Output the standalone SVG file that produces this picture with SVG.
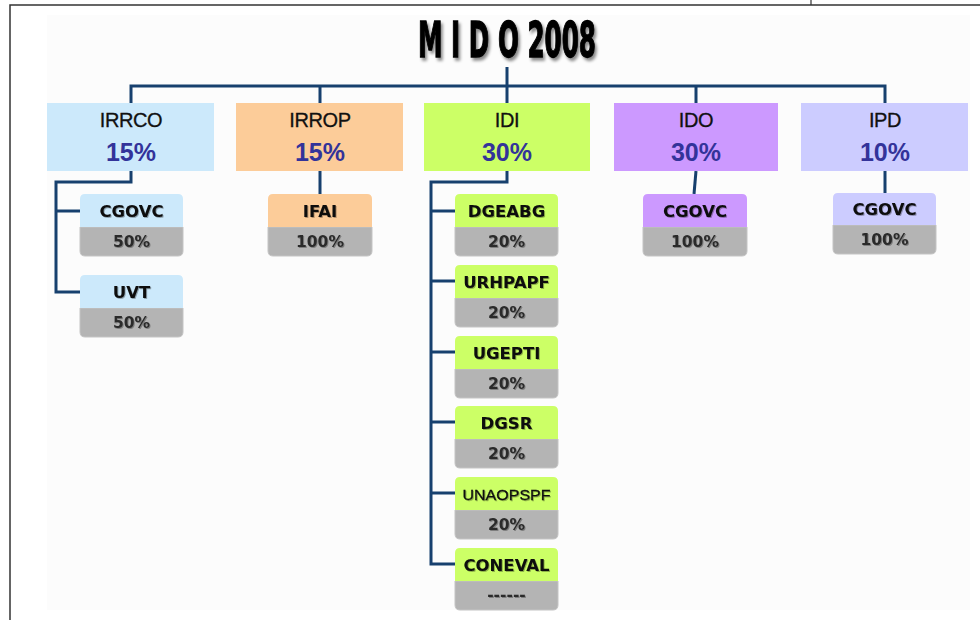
<svg xmlns="http://www.w3.org/2000/svg" width="980" height="620" viewBox="0 0 980 620">
<defs>
<filter id="sh" x="-10%" y="-20%" width="130%" height="160%">
<feDropShadow dx="2" dy="3" stdDeviation="1.6" flood-color="#000" flood-opacity="0.45"/>
</filter>
<filter id="ts" x="-10%" y="-20%" width="130%" height="150%">
<feDropShadow dx="1" dy="1" stdDeviation="0.6" flood-color="#000" flood-opacity="0.3"/>
</filter>
</defs>
<style>
.frame{stroke:#333;stroke-width:1.5;fill:none}
.con{stroke:#17406e;stroke-width:3;fill:none}
.top-name{font-family:"Liberation Sans",Arial,sans-serif;font-size:20px;fill:#111;stroke:#111;stroke-width:0.3px;text-anchor:middle;letter-spacing:-0.4px}
.top-pct{font-family:"Liberation Sans",Arial,sans-serif;font-size:25px;font-weight:bold;fill:#33339a;text-anchor:middle}
.sub-name{font-family:"DejaVu Sans",Verdana,sans-serif;font-size:16.5px;font-weight:bold;fill:#0a0a0a;text-anchor:middle}
.sub-pct{font-family:"DejaVu Sans",Verdana,sans-serif;font-size:15.5px;font-weight:bold;fill:#2a2a2a;text-anchor:middle}
.grey{fill:#b4b4b4;stroke:#c4c4c4;stroke-width:1}
.blue{fill:#cce9fb}.peach{fill:#fccc99}.lime{fill:#ccff66}.violet{fill:#cc99ff}.lav{fill:#ccccff}
</style>
<rect width="980" height="620" fill="#ffffff"/>
<rect x="47" y="15" width="923" height="595" fill="#fcfcfc"/>
<path class="frame" d="M10,620 V5 H980"/>
<line x1="811" y1="0" x2="811" y2="5" stroke="#333" stroke-width="1.2"/>

<g id="title" filter="url(#sh)">
<text x="507" y="57" text-anchor="middle" textLength="178" lengthAdjust="spacingAndGlyphs" font-family="'Liberation Sans Narrow','DejaVu Sans Condensed','Liberation Sans',sans-serif" font-weight="bold" font-size="44" fill="#000" stroke="#000" stroke-width="1.2" transform="translate(507 57) scale(1 1.12) translate(-507 -57)">M I D O 2008</text>
</g>

<g id="connectors">
<path class="con" d="M507,67 V86"/>
<path class="con" d="M131,103 V86 H885 V103"/>
<path class="con" d="M320,86 V103 M507,86 V103 M696,86 V103"/>
<path class="con" d="M131,171 V182 H56 V292 H80 M56,211 H80"/>
<path class="con" d="M320,171 V194"/>
<path class="con" d="M507,171 V182 H431 V564 H455 M431,211 H455 M431,281 H455 M431,352 H455 M431,422 H455 M431,493 H455"/>
<path class="con" d="M696,171 L694,194"/>
<path class="con" d="M885,171 V193"/>
</g>

<g id="IRRCO">
<rect class="blue" x="47" y="103" width="167" height="68"/>
<text class="top-name" x="131" y="127">IRRCO</text>
<text class="top-pct" x="131" y="161">15%</text>
</g>
<g id="IRROP">
<rect class="peach" x="236" y="103" width="167" height="68"/>
<text class="top-name" x="320" y="127">IRROP</text>
<text class="top-pct" x="320" y="161">15%</text>
</g>
<g id="IDI">
<rect class="lime" x="424" y="103" width="166" height="68"/>
<text class="top-name" x="507" y="127">IDI</text>
<text class="top-pct" x="507" y="161">30%</text>
</g>
<g id="IDO">
<rect class="violet" x="614" y="103" width="164" height="68"/>
<text class="top-name" x="696" y="127">IDO</text>
<text class="top-pct" x="696" y="161">30%</text>
</g>
<g id="IPD">
<rect class="lav" x="801" y="103" width="167" height="68"/>
<text class="top-name" x="885" y="127">IPD</text>
<text class="top-pct" x="885" y="161">10%</text>
</g>

<g id="IRRCO-CGOVC">
<path class="grey" d="M80,227 H183 V251 Q183,256 178,256 H85 Q80,256 80,251 Z"/>
<path class="blue" d="M80,227 V199 Q80,194 85,194 H178 Q183,194 183,199 V227 Z"/>
<text class="sub-name" x="131.5" y="217" filter="url(#ts)">CGOVC</text>
<text class="sub-pct" x="131.5" y="247" filter="url(#ts)">50%</text>
</g>
<g id="IRRCO-UVT">
<path class="grey" d="M80,308 H183 V332 Q183,337 178,337 H85 Q80,337 80,332 Z"/>
<path class="blue" d="M80,308 V280 Q80,275 85,275 H178 Q183,275 183,280 V308 Z"/>
<text class="sub-name" x="131.5" y="298" filter="url(#ts)">UVT</text>
<text class="sub-pct" x="131.5" y="328" filter="url(#ts)">50%</text>
</g>
<g id="IRROP-IFAI">
<path class="grey" d="M268,227 H372 V251 Q372,256 367,256 H273 Q268,256 268,251 Z"/>
<path class="peach" d="M268,227 V199 Q268,194 273,194 H367 Q372,194 372,199 V227 Z"/>
<text class="sub-name" x="320" y="217" filter="url(#ts)">IFAI</text>
<text class="sub-pct" x="320" y="247" filter="url(#ts)">100%</text>
</g>

<g id="IDI-DGEABG">
<path class="grey" d="M455,227 H558 V251 Q558,256 553,256 H460 Q455,256 455,251 Z"/>
<path class="lime" d="M455,227 V199 Q455,194 460,194 H553 Q558,194 558,199 V227 Z"/>
<text class="sub-name" x="506.5" y="217" filter="url(#ts)">DGEABG</text>
<text class="sub-pct" x="506.5" y="247" filter="url(#ts)">20%</text>
</g>
<g id="IDI-URHPAPF">
<path class="grey" d="M455,298 H558 V322 Q558,327 553,327 H460 Q455,327 455,322 Z"/>
<path class="lime" d="M455,298 V270 Q455,265 460,265 H553 Q558,265 558,270 V298 Z"/>
<text class="sub-name" x="506.5" y="288" filter="url(#ts)">URHPAPF</text>
<text class="sub-pct" x="506.5" y="318" filter="url(#ts)">20%</text>
</g>
<g id="IDI-UGEPTI">
<path class="grey" d="M455,369 H558 V393 Q558,398 553,398 H460 Q455,398 455,393 Z"/>
<path class="lime" d="M455,369 V341 Q455,336 460,336 H553 Q558,336 558,341 V369 Z"/>
<text class="sub-name" x="506.5" y="359" filter="url(#ts)">UGEPTI</text>
<text class="sub-pct" x="506.5" y="389" filter="url(#ts)">20%</text>
</g>
<g id="IDI-DGSR">
<path class="grey" d="M455,439 H558 V463 Q558,468 553,468 H460 Q455,468 455,463 Z"/>
<path class="lime" d="M455,439 V411 Q455,406 460,406 H553 Q558,406 558,411 V439 Z"/>
<text class="sub-name" x="506.5" y="429" filter="url(#ts)">DGSR</text>
<text class="sub-pct" x="506.5" y="459" filter="url(#ts)">20%</text>
</g>
<g id="IDI-UNAOPSPF">
<path class="grey" d="M455,510 H558 V534 Q558,539 553,539 H460 Q455,539 455,534 Z"/>
<path class="lime" d="M455,510 V482 Q455,477 460,477 H553 Q558,477 558,482 V510 Z"/>
<text x="506.5" y="500" text-anchor="middle" font-family="'Liberation Sans',Arial,sans-serif" font-size="15" fill="#111" stroke="#111" stroke-width="0.3" textLength="88" lengthAdjust="spacingAndGlyphs" filter="url(#ts)">UNAOPSPF</text>
<text class="sub-pct" x="506.5" y="530" filter="url(#ts)">20%</text>
</g>
<g id="IDI-CONEVAL">
<path class="grey" d="M455,581 H558 V605 Q558,610 553,610 H460 Q455,610 455,605 Z"/>
<path class="lime" d="M455,581 V553 Q455,548 460,548 H553 Q558,548 558,553 V581 Z"/>
<text class="sub-name" x="506.5" y="571" filter="url(#ts)">CONEVAL</text>
<text class="sub-pct" x="506.5" y="600" font-size="13" filter="url(#ts)">------</text>
</g>

<g id="IDO-CGOVC">
<path class="grey" d="M643,227 H747 V251 Q747,256 742,256 H648 Q643,256 643,251 Z"/>
<path class="violet" d="M643,227 V199 Q643,194 648,194 H742 Q747,194 747,199 V227 Z"/>
<text class="sub-name" x="695" y="217" filter="url(#ts)">CGOVC</text>
<text class="sub-pct" x="695" y="247" filter="url(#ts)">100%</text>
</g>
<g id="IPD-CGOVC">
<path class="grey" d="M833,225 H936 V249 Q936,254 931,254 H838 Q833,254 833,249 Z"/>
<path class="lav" d="M833,225 V198 Q833,193 838,193 H931 Q936,193 936,198 V225 Z"/>
<text class="sub-name" x="884.5" y="215" filter="url(#ts)">CGOVC</text>
<text class="sub-pct" x="884.5" y="245" filter="url(#ts)">100%</text>
</g>
</svg>
